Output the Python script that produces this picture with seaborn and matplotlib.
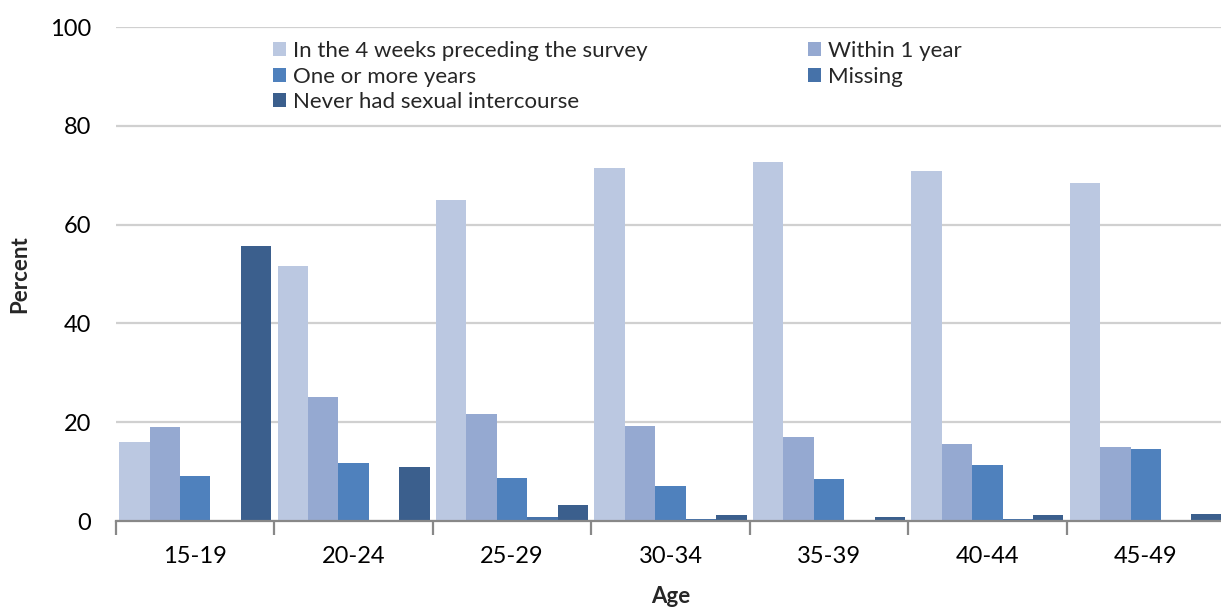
import matplotlib
matplotlib.use("Agg")
import matplotlib.pyplot as plt
import numpy as np
import pandas as pd
import seaborn as sns

age_groups = ["15-19", "20-24", "25-29", "30-34", "35-39", "40-44", "45-49"]
series_names = [
    "In the 4 weeks preceding the survey",
    "Within 1 year",
    "One or more years",
    "Missing",
    "Never had sexual intercourse",
]
last_4_weeks = [15.9, 51.6, 65.0, 71.5, 72.7, 70.9, 68.4]
within_1_year = [19.0, 25.1, 21.7, 19.2, 17.1, 15.6, 15.0]
one_or_more_years = [9.1, 11.7, 8.8, 7.1, 8.6, 11.3, 14.6]
missing = [0.0, 0.0, 0.9, 0.4, 0.2, 0.4, 0.0]
never_had_sex = [55.7, 10.9, 3.2, 1.2, 0.9, 1.2, 1.4]
colors = ["#BBC8E1", "#95A9D1", "#4F81BD", "#4672A9", "#3B5F8D"]

values = [last_4_weeks, within_1_year, one_or_more_years, missing, never_had_sex]
df = pd.DataFrame(
    [(a, s, v[i]) for s, v in zip(series_names, values) for i, a in enumerate(age_groups)],
    columns=["Age", "Series", "Percent"],
)

sns.set_theme(style="white")
plt.rcParams["font.family"] = ["Lato", "DejaVu Sans"]

fig = plt.figure(figsize=(12.21, 6.08), dpi=100)
ax = fig.add_axes([116 / 1221, 1 - 521 / 608, 1109 / 1221, (521 - 27) / 608])

sns.barplot(
    data=df, x="Age", y="Percent", hue="Series", order=age_groups,
    hue_order=series_names, palette=colors, width=0.96, gap=0,
    saturation=1, edgecolor="none", legend=True, ax=ax,
)

ax.set_ylim(0, 100)
ax.set_xlim(-0.5, len(age_groups) - 0.5)
ax.set_yticks([0, 20, 40, 60, 80, 100])
ax.yaxis.grid(True, color="#D0D0D0", linewidth=1.6)
ax.set_axisbelow(True)
for side in ["left", "right", "top"]:
    ax.spines[side].set_visible(False)
ax.spines["bottom"].set_color("#888888")
ax.spines["bottom"].set_linewidth(1.6)

ax.set_xticks(np.arange(-0.5, len(age_groups)), minor=True)
ax.tick_params(axis="x", which="minor", length=10, width=1.6, color="#888888", bottom=True)
ax.tick_params(axis="x", which="major", length=0, pad=18, labelsize=17, labelcolor="black")
ax.tick_params(axis="y", length=0, pad=18, labelsize=17, labelcolor="black")

ax.set_xlabel("Age", fontsize=16, fontweight="bold", labelpad=14)
ax.set_ylabel("Percent", fontsize=16, fontweight="bold", labelpad=14)

# Row-wise legend layout: column 1 gets entries 0, 2, 4; column 2 gets 1, 3
handles, labels = ax.get_legend_handles_labels()
order = [0, 2, 4, 1, 3]
ax.legend(
    [handles[i] for i in order], [labels[i] for i in order], ncol=2, loc="upper left",
    bbox_to_anchor=(262 / 1221, 1 - 30 / 608), bbox_transform=fig.transFigure,
    frameon=False, fontsize=16, handlelength=0.6, handleheight=0.6,
    handletextpad=0.3, columnspacing=7.2, labelspacing=0.25, borderpad=0,
)

fig.savefig("out.png", dpi=100)
